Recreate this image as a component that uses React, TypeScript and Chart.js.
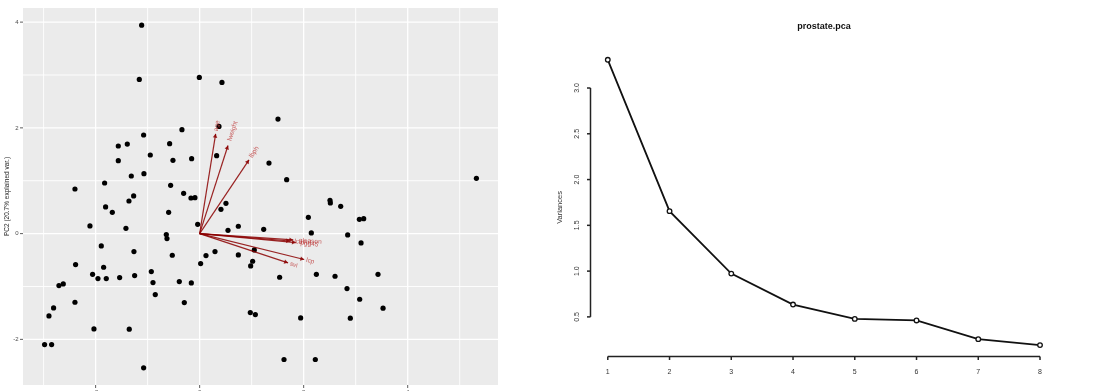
import React, { useEffect, useRef } from 'react';
import { Chart, registerables } from 'chart.js';

Chart.register(...registerables);

// ---------- Biplot data (PC scores) ----------
const PC1_SCORES: number[] = [
  -1.115, -1.16, -0.006, 0.429, 1.506, -0.34, 0.372, -1.077, -1.564, -1.391,
  -0.577, -1.564, -0.949, -0.513, -0.154, 0.327, 1.333, -1.314, -1.071, -2.397,
  -1.827, -0.558, 1.673, 5.321, -0.308, -1.269, -1.359, -0.167, -0.09, -1.808,
  -1.679, -0.596, 0.506, 0.41, 2.506, 2.513, 2.712, 2.09, 3.071, 3.154,
  -2.109, -1.417, -0.038, 0.545, 0.744, 1.231, 2.147, 2.846, -0.641, -0.628,
  -1.891, 3.103, -1.263, 0.295, 1.051, -0.526, 0.122, 0.744, -2.385, 0.019,
  1.019, 0.981, -1.846, -2.058, -0.929, 2.244, 2.603, 3.429, -1.955, -1.795,
  -1.538, -1.25, 1.538, -0.391, -0.16, -0.897, -2.705, -2.622, 2.833, -0.853,
  3.077, -2.397, -0.295, -2.808, 3.526, -2.897, 0.974, 1.071, 1.942, 2.897,
  -2.032, -1.353, -2.981, -2.846, 1.622, 2.224, -1.077,
];
const PC2_SCORES: number[] = [
  3.943, 2.917, 2.954, 2.86, 2.167, 1.965, 2.028, 1.865, 1.657, 1.694,
  1.701, 1.38, 1.487, 1.386, 1.417, 1.474, 1.335, 1.09, 1.134, 0.844,
  0.957, 0.913, 1.02, 1.046, 0.762, 0.712, 0.617, 0.674, 0.68, 0.504,
  0.403, 0.403, 0.573, 0.46, 0.63, 0.58, 0.517, 0.309, 0.271, 0.283,
  0.145, 0.101, 0.176, 0.063, 0.139, 0.082, 0.013, -0.025, -0.019, -0.094,
  -0.233, -0.176, -0.34, -0.34, -0.309, -0.409, -0.416, -0.403, -0.586, -0.567,
  -0.523, -0.611, -0.636, -0.769, -0.718, -0.769, -0.806, -0.769, -0.85, -0.85,
  -0.832, -0.794, -0.825, -0.907, -0.932, -0.926, -0.983, -0.951, -1.039, -1.153,
  -1.241, -1.298, -1.304, -1.405, -1.411, -1.556, -1.493, -1.531, -1.594, -1.6,
  -1.802, -1.808, -2.098, -2.098, -2.381, -2.381, -2.539,
];

// ---------- Biplot variable loadings (arrows) ----------
const VAR_NAMES: string[] = ['age', 'lweight', 'lbph', 'lcavol', 'gleason', 'pgg45', 'lcp', 'svi'];
const VAR_PC1: number[] = [0.308, 0.545, 0.949, 1.74, 1.8, 1.85, 2.01, 1.7];
const VAR_PC2: number[] = [1.887, 1.667, 1.396, -0.14, -0.12, -0.17, -0.49, -0.553];

const BIPLOT_X_MAJOR: number[] = [-2, 0, 2, 4];
const BIPLOT_X_MINOR: number[] = [-3, -1, 1, 3, 5];
const BIPLOT_Y_MAJOR: number[] = [-2, 0, 2, 4];
const BIPLOT_Y_MINOR: number[] = [-3, -1, 1, 3];
const BIPLOT_X_TITLE = 'PC1 (41.4% explained var.)';
const BIPLOT_Y_TITLE = 'PC2 (20.7% explained var.)';

// ---------- Scree plot ----------
const SCREE_TITLE = 'prostate.pca';
const SCREE_COMPONENTS: number[] = [1, 2, 3, 4, 5, 6, 7, 8];
const SCREE_VARIANCES: number[] = [3.308, 1.655, 0.973, 0.635, 0.478, 0.461, 0.257, 0.192];
const SCREE_Y_TICKS: number[] = [0.5, 1.0, 1.5, 2.0, 2.5, 3.0];
const SCREE_Y_TICK_LABELS: string[] = ['0.5', '1.0', '1.5', '2.0', '2.5', '3.0'];
const SCREE_Y_TITLE = 'Variances';

const FONT = '"Liberation Sans", Arial, Helvetica, sans-serif';

function expand(vals: number[], frac: number): [number, number] {
  const mn = Math.min(...vals);
  const mx = Math.max(...vals);
  const r = mx - mn;
  return [mn - r * frac, mx + r * frac];
}

function BiplotChart() {
  const ref = useRef<HTMLCanvasElement>(null);
  useEffect(() => {
    const canvas = ref.current!;
    const [xmin, xmax] = expand([...PC1_SCORES, ...VAR_PC1], 0.05);
    const [ymin, ymax] = expand([...PC2_SCORES, ...VAR_PC2], 0.05);

    const biplotPlugin = {
      id: 'biplotDecor',
      beforeDatasetsDraw(chart: any) {
        const { ctx, chartArea: a, scales } = chart;
        const xs = scales.x;
        const ys = scales.y;
        ctx.save();
        ctx.fillStyle = '#EBEBEB';
        ctx.fillRect(a.left, a.top, a.right - a.left, a.bottom - a.top);
        ctx.beginPath();
        ctx.rect(a.left, a.top, a.right - a.left, a.bottom - a.top);
        ctx.clip();
        ctx.strokeStyle = '#FFFFFF';
        ctx.lineWidth = 0.9;
        for (const v of BIPLOT_X_MINOR) {
          const p = xs.getPixelForValue(v);
          ctx.beginPath(); ctx.moveTo(p, a.top); ctx.lineTo(p, a.bottom); ctx.stroke();
        }
        for (const v of BIPLOT_Y_MINOR) {
          const p = ys.getPixelForValue(v);
          ctx.beginPath(); ctx.moveTo(a.left, p); ctx.lineTo(a.right, p); ctx.stroke();
        }
        ctx.lineWidth = 1.3;
        for (const v of BIPLOT_X_MAJOR) {
          const p = xs.getPixelForValue(v);
          ctx.beginPath(); ctx.moveTo(p, a.top); ctx.lineTo(p, a.bottom); ctx.stroke();
        }
        for (const v of BIPLOT_Y_MAJOR) {
          const p = ys.getPixelForValue(v);
          ctx.beginPath(); ctx.moveTo(a.left, p); ctx.lineTo(a.right, p); ctx.stroke();
        }
        ctx.restore();
      },
      afterDatasetsDraw(chart: any) {
        const { ctx, chartArea: a, scales } = chart;
        const xs = scales.x;
        const ys = scales.y;
        const ox = xs.getPixelForValue(0);
        const oy = ys.getPixelForValue(0);
        ctx.save();
        // arrows
        for (let i = 0; i < VAR_NAMES.length; i++) {
          const tx = xs.getPixelForValue(VAR_PC1[i]);
          const ty = ys.getPixelForValue(VAR_PC2[i]);
          const th = Math.atan2(ty - oy, tx - ox);
          ctx.strokeStyle = 'rgba(139,0,0,0.85)';
          ctx.fillStyle = 'rgba(139,0,0,0.85)';
          ctx.lineWidth = 1.2;
          ctx.beginPath(); ctx.moveTo(ox, oy); ctx.lineTo(tx, ty); ctx.stroke();
          const L = 4.5;
          ctx.beginPath();
          ctx.moveTo(tx, ty);
          ctx.lineTo(tx - L * Math.cos(th - Math.PI / 6), ty - L * Math.sin(th - Math.PI / 6));
          ctx.lineTo(tx - L * Math.cos(th + Math.PI / 6), ty - L * Math.sin(th + Math.PI / 6));
          ctx.closePath();
          ctx.fill();
        }
        // labels
        ctx.font = `6.5px ${FONT}`;
        ctx.fillStyle = 'rgba(190,60,60,0.85)';
        ctx.textBaseline = 'middle';
        ctx.textAlign = 'left';
        for (let i = 0; i < VAR_NAMES.length; i++) {
          const tx = xs.getPixelForValue(VAR_PC1[i]);
          const ty = ys.getPixelForValue(VAR_PC2[i]);
          const th = Math.atan2(ty - oy, tx - ox);
          const w = ctx.measureText(VAR_NAMES[i]).width;
          ctx.save();
          ctx.translate(tx, ty);
          ctx.rotate(th);
          ctx.fillText(VAR_NAMES[i], w * 0.25, 0);
          ctx.restore();
        }
        // axes ticks & labels
        ctx.strokeStyle = '#333333';
        ctx.lineWidth = 0.8;
        ctx.fillStyle = '#4D4D4D';
        ctx.font = `6px ${FONT}`;
        ctx.textAlign = 'right';
        ctx.textBaseline = 'middle';
        for (const v of BIPLOT_Y_MAJOR) {
          const p = ys.getPixelForValue(v);
          ctx.beginPath(); ctx.moveTo(a.left - 3, p); ctx.lineTo(a.left, p); ctx.stroke();
          ctx.fillText(String(v), a.left - 4.5, p);
        }
        ctx.textAlign = 'center';
        ctx.textBaseline = 'top';
        for (const v of BIPLOT_X_MAJOR) {
          const p = xs.getPixelForValue(v);
          ctx.beginPath(); ctx.moveTo(p, a.bottom); ctx.lineTo(p, a.bottom + 3); ctx.stroke();
          ctx.fillText(String(v), p, a.bottom + 4);
        }
        ctx.fillStyle = '#000000';
        ctx.font = `6.5px ${FONT}`;
        ctx.textBaseline = 'top';
        ctx.fillText(BIPLOT_X_TITLE, (a.left + a.right) / 2, a.bottom + 14);
        ctx.save();
        ctx.translate(7, (a.top + a.bottom) / 2);
        ctx.rotate(-Math.PI / 2);
        ctx.textBaseline = 'middle';
        ctx.textAlign = 'center';
        ctx.fillStyle = '#222222';
        ctx.fillText(BIPLOT_Y_TITLE, 0, 0);
        ctx.restore();
        ctx.restore();
      },
    };

    const chart = new Chart(canvas, {
      type: 'scatter',
      data: {
        datasets: [
          {
            data: PC1_SCORES.map((x, i) => ({ x, y: PC2_SCORES[i] })),
            backgroundColor: '#000000',
            borderWidth: 0,
            pointRadius: 2.6,
          },
        ],
      },
      options: {
        animation: false,
        responsive: false,
        maintainAspectRatio: false,
        devicePixelRatio: 1,
        layout: { padding: { left: 23, right: 32, top: 8, bottom: 35 } },
        plugins: { legend: { display: false }, tooltip: { enabled: false }, title: { display: false } },
        scales: {
          x: { type: 'linear', min: xmin, max: xmax, display: false },
          y: { type: 'linear', min: ymin, max: ymax, display: false },
        },
      },
      plugins: [biplotPlugin],
    } as any);
    return () => chart.destroy();
  }, []);
  return <canvas ref={ref} width={530} height={420} style={{ position: 'absolute', left: 0, top: 0 }} />;
}

function ScreeChart() {
  const ref = useRef<HTMLCanvasElement>(null);
  useEffect(() => {
    const canvas = ref.current!;
    const [xmin, xmax] = expand(SCREE_COMPONENTS, 0.04);
    const [ymin, ymax] = expand(SCREE_VARIANCES, 0.04);

    const screePlugin = {
      id: 'screeDecor',
      afterDraw(chart: any) {
        const { ctx, chartArea: a, scales } = chart;
        const xs = scales.x;
        const ys = scales.y;
        ctx.save();
        ctx.strokeStyle = '#222222';
        ctx.fillStyle = '#333333';
        ctx.lineWidth = 1.5;
        // x axis
        const x0 = xs.getPixelForValue(SCREE_COMPONENTS[0]);
        const x1 = xs.getPixelForValue(SCREE_COMPONENTS[SCREE_COMPONENTS.length - 1]);
        ctx.beginPath(); ctx.moveTo(x0, a.bottom); ctx.lineTo(x1, a.bottom); ctx.stroke();
        ctx.font = `7px ${FONT}`;
        ctx.textAlign = 'center';
        ctx.textBaseline = 'middle';
        for (const c of SCREE_COMPONENTS) {
          const p = xs.getPixelForValue(c);
          ctx.beginPath(); ctx.moveTo(p, a.bottom); ctx.lineTo(p, a.bottom + 3.5); ctx.stroke();
          ctx.fillText(String(c), p, a.bottom + 15.5);
        }
        // y axis
        const y0 = ys.getPixelForValue(SCREE_Y_TICKS[0]);
        const y1 = ys.getPixelForValue(SCREE_Y_TICKS[SCREE_Y_TICKS.length - 1]);
        ctx.beginPath(); ctx.moveTo(a.left, y0); ctx.lineTo(a.left, y1); ctx.stroke();
        for (let i = 0; i < SCREE_Y_TICKS.length; i++) {
          const p = ys.getPixelForValue(SCREE_Y_TICKS[i]);
          ctx.beginPath(); ctx.moveTo(a.left, p); ctx.lineTo(a.left - 3.5, p); ctx.stroke();
          ctx.save();
          ctx.translate(a.left - 13, p);
          ctx.rotate(-Math.PI / 2);
          ctx.fillText(SCREE_Y_TICK_LABELS[i], 0, 0);
          ctx.restore();
        }
        ctx.save();
        ctx.translate(a.left - 31, (a.top + a.bottom) / 2 + 5);
        ctx.rotate(-Math.PI / 2);
        ctx.font = `7.5px ${FONT}`;
        ctx.fillText(SCREE_Y_TITLE, 0, 0);
        ctx.restore();
        // title
        ctx.font = `bold 9px ${FONT}`;
        ctx.fillStyle = '#111111';
        ctx.fillText(SCREE_TITLE, (a.left + a.right) / 2, 27);
        ctx.restore();
      },
    };

    const chart = new Chart(canvas, {
      type: 'line',
      data: {
        datasets: [
          {
            data: SCREE_COMPONENTS.map((c, i) => ({ x: c, y: SCREE_VARIANCES[i] })),
            borderColor: '#111111',
            borderWidth: 1.8,
            pointRadius: 2.3,
            pointBorderWidth: 1.3,
            pointBackgroundColor: '#FFFFFF',
            pointBorderColor: '#111111',
            tension: 0,
            fill: false,
            clip: false,
          },
        ],
      },
      options: {
        animation: false,
        responsive: false,
        maintainAspectRatio: false,
        devicePixelRatio: 1,
        layout: { padding: { left: 60.5, right: 52.7, top: 48.4, bottom: 34.5 } },
        plugins: { legend: { display: false }, tooltip: { enabled: false }, title: { display: false } },
        scales: {
          x: { type: 'linear', min: xmin, max: xmax, display: false },
          y: { type: 'linear', min: ymin, max: ymax, display: false },
        },
      },
      plugins: [screePlugin],
    } as any);
    return () => chart.destroy();
  }, []);
  return <canvas ref={ref} width={580} height={391} style={{ position: 'absolute', left: 530, top: 0 }} />;
}

export default function App() {
  return (
    <div
      style={{
        position: 'fixed',
        left: 0,
        top: 0,
        width: 1110,
        height: 391,
        overflow: 'hidden',
        background: '#FFFFFF',
      }}
    >
      <BiplotChart />
      <ScreeChart />
    </div>
  );
}
